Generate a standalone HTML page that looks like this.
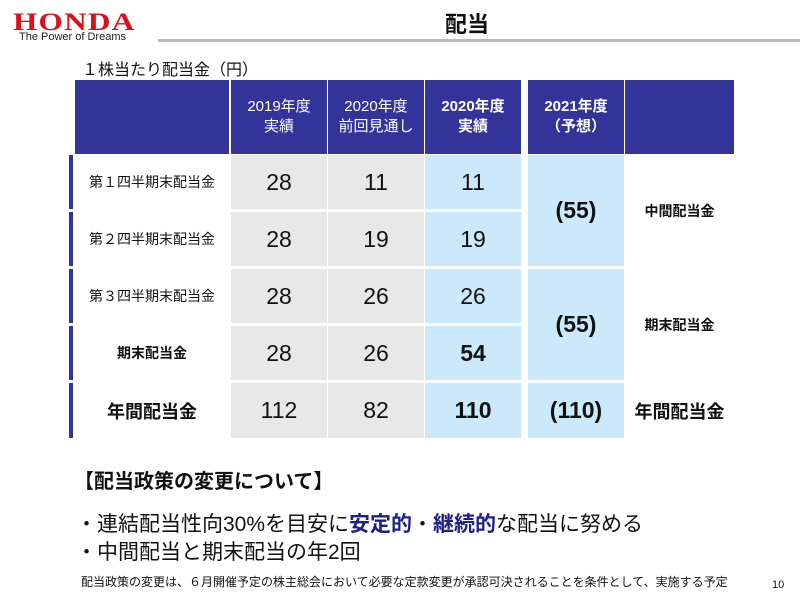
<!DOCTYPE html>
<html><head><meta charset="utf-8"><style>
*{margin:0;padding:0;box-sizing:border-box}
body{width:800px;height:600px;background:#fff;position:relative;overflow:hidden;font-family:"Liberation Sans","Noto Sans CJK JP",sans-serif;color:#111}
.a{position:absolute;display:flex;align-items:center;justify-content:center;text-align:center}
.h{background:#333399;color:#fff;font-size:15px;line-height:20px}
.g{background:#e8e8e8;font-size:23px}
.b{background:#cce9fb;font-size:23px}
.l{font-size:14px}
.bar{position:absolute;left:69px;width:4px;background:#333399}
</style></head><body>
<div style="position:absolute;left:13px;top:9px;font-family:'Liberation Serif',serif;font-weight:bold;font-size:25px;color:#d8111b;letter-spacing:1px;transform:scaleX(1.25);transform-origin:left">HONDA</div>
<div style="position:absolute;left:19px;top:31px;font-size:11px;color:#222">The Power of Dreams</div>
<div style="position:absolute;left:158px;top:39px;width:642px;height:3px;background:#bbb"></div>
<div style="position:absolute;left:445px;top:7px;font-size:22px;font-weight:bold">配当</div>
<div style="position:absolute;left:82px;top:56px;font-size:16px">１株当たり配当金（円）</div>

<div class="a h" style="left:75px;top:80px;width:154px;height:74px"></div>
<div class="a h" style="left:231px;top:80px;width:96px;height:74px">2019年度<br>実績</div>
<div class="a h" style="left:328px;top:80px;width:96px;height:74px">2020年度<br>前回見通し</div>
<div class="a h" style="left:425px;top:80px;width:96px;height:74px;font-weight:bold">2020年度<br>実績</div>
<div class="a h" style="left:528px;top:80px;width:96px;height:74px;font-weight:bold">2021年度<br>（予想）</div>
<div class="a h" style="left:625px;top:80px;width:109px;height:74px"></div>

<div class="bar" style="top:155px;height:54px"></div>
<div class="bar" style="top:212px;height:54px"></div>
<div class="bar" style="top:269px;height:54px"></div>
<div class="bar" style="top:326px;height:54px"></div>
<div class="bar" style="top:383px;height:55px"></div>

<div class="a l" style="left:75px;top:155px;width:154px;height:54px">第１四半期末配当金</div>
<div class="a g" style="left:231px;top:155px;width:96px;height:54px">28</div>
<div class="a g" style="left:328px;top:155px;width:96px;height:54px">11</div>
<div class="a b" style="left:425px;top:155px;width:96px;height:54px">11</div>

<div class="a l" style="left:75px;top:212px;width:154px;height:54px">第２四半期末配当金</div>
<div class="a g" style="left:231px;top:212px;width:96px;height:54px">28</div>
<div class="a g" style="left:328px;top:212px;width:96px;height:54px">19</div>
<div class="a b" style="left:425px;top:212px;width:96px;height:54px">19</div>

<div class="a l" style="left:75px;top:269px;width:154px;height:54px">第３四半期末配当金</div>
<div class="a g" style="left:231px;top:269px;width:96px;height:54px">28</div>
<div class="a g" style="left:328px;top:269px;width:96px;height:54px">26</div>
<div class="a b" style="left:425px;top:269px;width:96px;height:54px">26</div>

<div class="a l" style="left:75px;top:326px;width:154px;height:54px;font-weight:bold">期末配当金</div>
<div class="a g" style="left:231px;top:326px;width:96px;height:54px">28</div>
<div class="a g" style="left:328px;top:326px;width:96px;height:54px">26</div>
<div class="a b" style="left:425px;top:326px;width:96px;height:54px;font-weight:bold">54</div>

<div class="a" style="left:75px;top:383px;width:154px;height:55px;font-size:18px;font-weight:bold">年間配当金</div>
<div class="a g" style="left:231px;top:383px;width:96px;height:55px">112</div>
<div class="a g" style="left:328px;top:383px;width:96px;height:55px">82</div>
<div class="a b" style="left:425px;top:383px;width:96px;height:55px;font-weight:bold">110</div>

<div class="a b" style="left:528px;top:155px;width:96px;height:111px;font-weight:bold">(55)</div>
<div class="a b" style="left:528px;top:269px;width:96px;height:111px;font-weight:bold">(55)</div>
<div class="a b" style="left:528px;top:383px;width:96px;height:55px;font-weight:bold">(110)</div>
<div class="a" style="left:625px;top:155px;width:109px;height:111px;font-size:14px;font-weight:bold">中間配当金</div>
<div class="a" style="left:625px;top:269px;width:109px;height:111px;font-size:14px;font-weight:bold">期末配当金</div>
<div class="a" style="left:625px;top:383px;width:109px;height:55px;font-size:18px;font-weight:bold">年間配当金</div>

<div style="position:absolute;left:74px;top:465px;font-size:20px;font-weight:bold">【配当政策の変更について】</div>
<div style="position:absolute;left:76px;top:508px;font-size:21px">・連結配当性向30%を目安に<b style="color:#1d2088">安定的</b>・<b style="color:#1d2088">継続的</b>な配当に努める</div>
<div style="position:absolute;left:76px;top:536px;font-size:21px">・中間配当と期末配当の年2回</div>
<div style="position:absolute;left:81px;top:573px;font-size:12px">配当政策の変更は、６月開催予定の株主総会において必要な定款変更が承認可決されることを条件として、実施する予定</div>
<div style="position:absolute;left:772px;top:579px;font-size:11px">10</div>
</body></html>
